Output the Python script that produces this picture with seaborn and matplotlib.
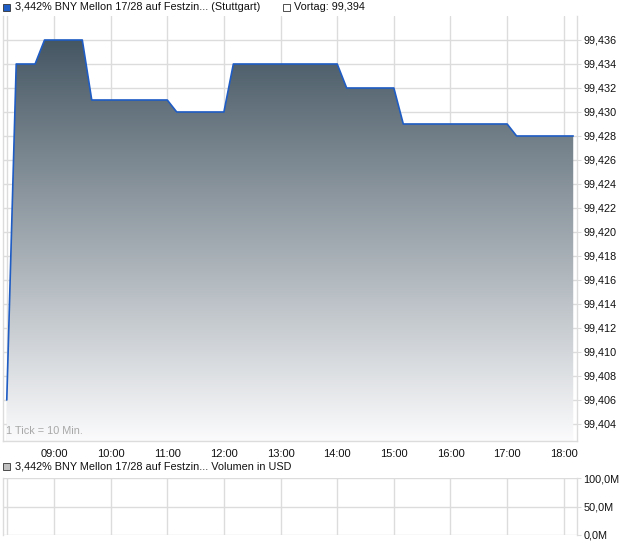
import numpy as np
import pandas as pd
import matplotlib
matplotlib.use('Agg')
import matplotlib.pyplot as plt
from matplotlib.patches import Polygon, Rectangle
import seaborn as sns

# price series, 1 tick = 10 min
times = ["08:10", "08:20", "08:40", "08:50", "09:30", "09:40", "11:00", "11:10",
         "12:00", "12:10", "14:00", "14:10", "15:00", "15:10", "17:00", "17:10", "18:10"]
prices = [99.406, 99.434, 99.434, 99.436, 99.436, 99.431, 99.431, 99.430,
          99.430, 99.434, 99.434, 99.432, 99.432, 99.429, 99.429, 99.428, 99.428]
price_ticks = [99.404, 99.406, 99.408, 99.410, 99.412, 99.414, 99.416, 99.418, 99.420,
               99.422, 99.424, 99.426, 99.428, 99.430, 99.432, 99.434, 99.436]
hour_labels = ["09:00", "10:00", "11:00", "12:00", "13:00", "14:00", "15:00", "16:00", "17:00", "18:00"]
vol_ticks = [0, 50, 100]
vol_labels = ["0,0M", "50,0M", "100,0M"]

legend_main = "3,442% BNY Mellon 17/28 auf Festzin... (Stuttgart)"
legend_prev = "Vortag: 99,394"
legend_vol = "3,442% BNY Mellon 17/28 auf Festzin... Volumen in USD"


def to_h(s):
    h, m = s.split(":")
    return int(h) + int(m) / 60


df = pd.DataFrame({"t": [to_h(s) for s in times], "price": prices})

sns.set_style("white")
plt.rcParams['font.family'] = ['Liberation Sans', 'DejaVu Sans']
GRID = "#dcdcdc"
LINE = "#1f5cc4"
FS = 7.8

fig = plt.figure(figsize=(6.2, 5.46), dpi=100)
ax = fig.add_axes([3 / 620, 1 - 441 / 546, 574 / 620, 425 / 546])
ax2 = fig.add_axes([3 / 620, 1 - 535 / 546, 574 / 620, 57 / 546])

xmin, xmax = 8 + 6 / 60, 18 + 14 / 60
ymin, ymax = 99.40258, 99.438

# gradient fill under the line
grad = np.linspace(0, 1, 256).reshape(-1, 1)
top_c = np.array([0.26, 0.33, 0.38])
bot_c = np.array([0.985, 0.985, 0.99])
img = top_c + (bot_c - top_c) * grad[:, :, None] * np.ones((1, 1, 3))
im = ax.imshow(img, extent=[xmin, xmax, ymin, 99.4365], origin='upper',
               aspect='auto', zorder=1)
poly = Polygon(list(zip(df.t, df.price)) + [(df.t.iloc[-1], ymin), (df.t.iloc[0], ymin)],
               closed=True, facecolor='none', edgecolor='none')
ax.add_patch(poly)
im.set_clip_path(poly)

sns.lineplot(data=df, x="t", y="price", ax=ax, color=LINE, linewidth=1.2, zorder=3)

hour_pos = [to_h(s) for s in hour_labels]
for a in (ax, ax2):
    a.set_xlim(xmin, xmax)
    a.set_xticks([to_h("08:10")] + hour_pos)
    a.grid(True, color=GRID, linewidth=1)
    a.set_axisbelow(True)
    a.yaxis.tick_right()
    a.set_xlabel("")
    a.set_ylabel("")
    a.spines["top"].set_visible(False)
    for sp in ("left", "right", "bottom"):
        a.spines[sp].set_color(GRID)
        a.spines[sp].set_linewidth(1)
    a.tick_params(axis='y', length=3, color=GRID, labelsize=FS, pad=1.5, labelcolor="#111111")
    a.tick_params(axis='x', length=3, color=GRID, labelsize=FS + 0.2, pad=3, labelcolor="#111111")

ax.set_ylim(ymin, ymax)
ax.set_yticks(price_ticks)
ax.set_yticklabels([f"{v:.3f}".replace(".", ",") for v in price_ticks])
ax.set_xticklabels([""] + hour_labels)
ax.text(0.006, 0.012, "1 Tick = 10 Min.", transform=ax.transAxes, fontsize=FS,
        color="#a8a8a8", ha="left", va="bottom", zorder=4)

ax2.set_ylim(0, 100)
ax2.set_yticks(vol_ticks)
ax2.set_yticklabels(vol_labels)
ax2.set_xticklabels([])
ax2.tick_params(axis='x', length=0)
ax2.spines["bottom"].set_visible(False)

# legends
fig.patches.append(Rectangle((3 / 620, 1 - 11 / 546), 7 / 620, 7 / 546, transform=fig.transFigure,
                             facecolor=LINE, edgecolor="#333333", linewidth=0.6))
fig.text(15 / 620, 1 - 7.5 / 546, legend_main, fontsize=FS, va="center", ha="left", color="#111111")
fig.patches.append(Rectangle((283 / 620, 1 - 11 / 546), 7 / 620, 7 / 546, transform=fig.transFigure,
                             facecolor="white", edgecolor="#333333", linewidth=0.6))
fig.text(294 / 620, 1 - 7.5 / 546, legend_prev, fontsize=FS, va="center", ha="left", color="#111111")
fig.patches.append(Rectangle((3 / 620, 1 - 470 / 546), 7 / 620, 7 / 546, transform=fig.transFigure,
                             facecolor="#c0c0c0", edgecolor="#333333", linewidth=0.6))
fig.text(15 / 620, 1 - 466.5 / 546, legend_vol, fontsize=FS, va="center", ha="left", color="#111111")

fig.savefig("out.png", dpi=100)
plt.close(fig)
